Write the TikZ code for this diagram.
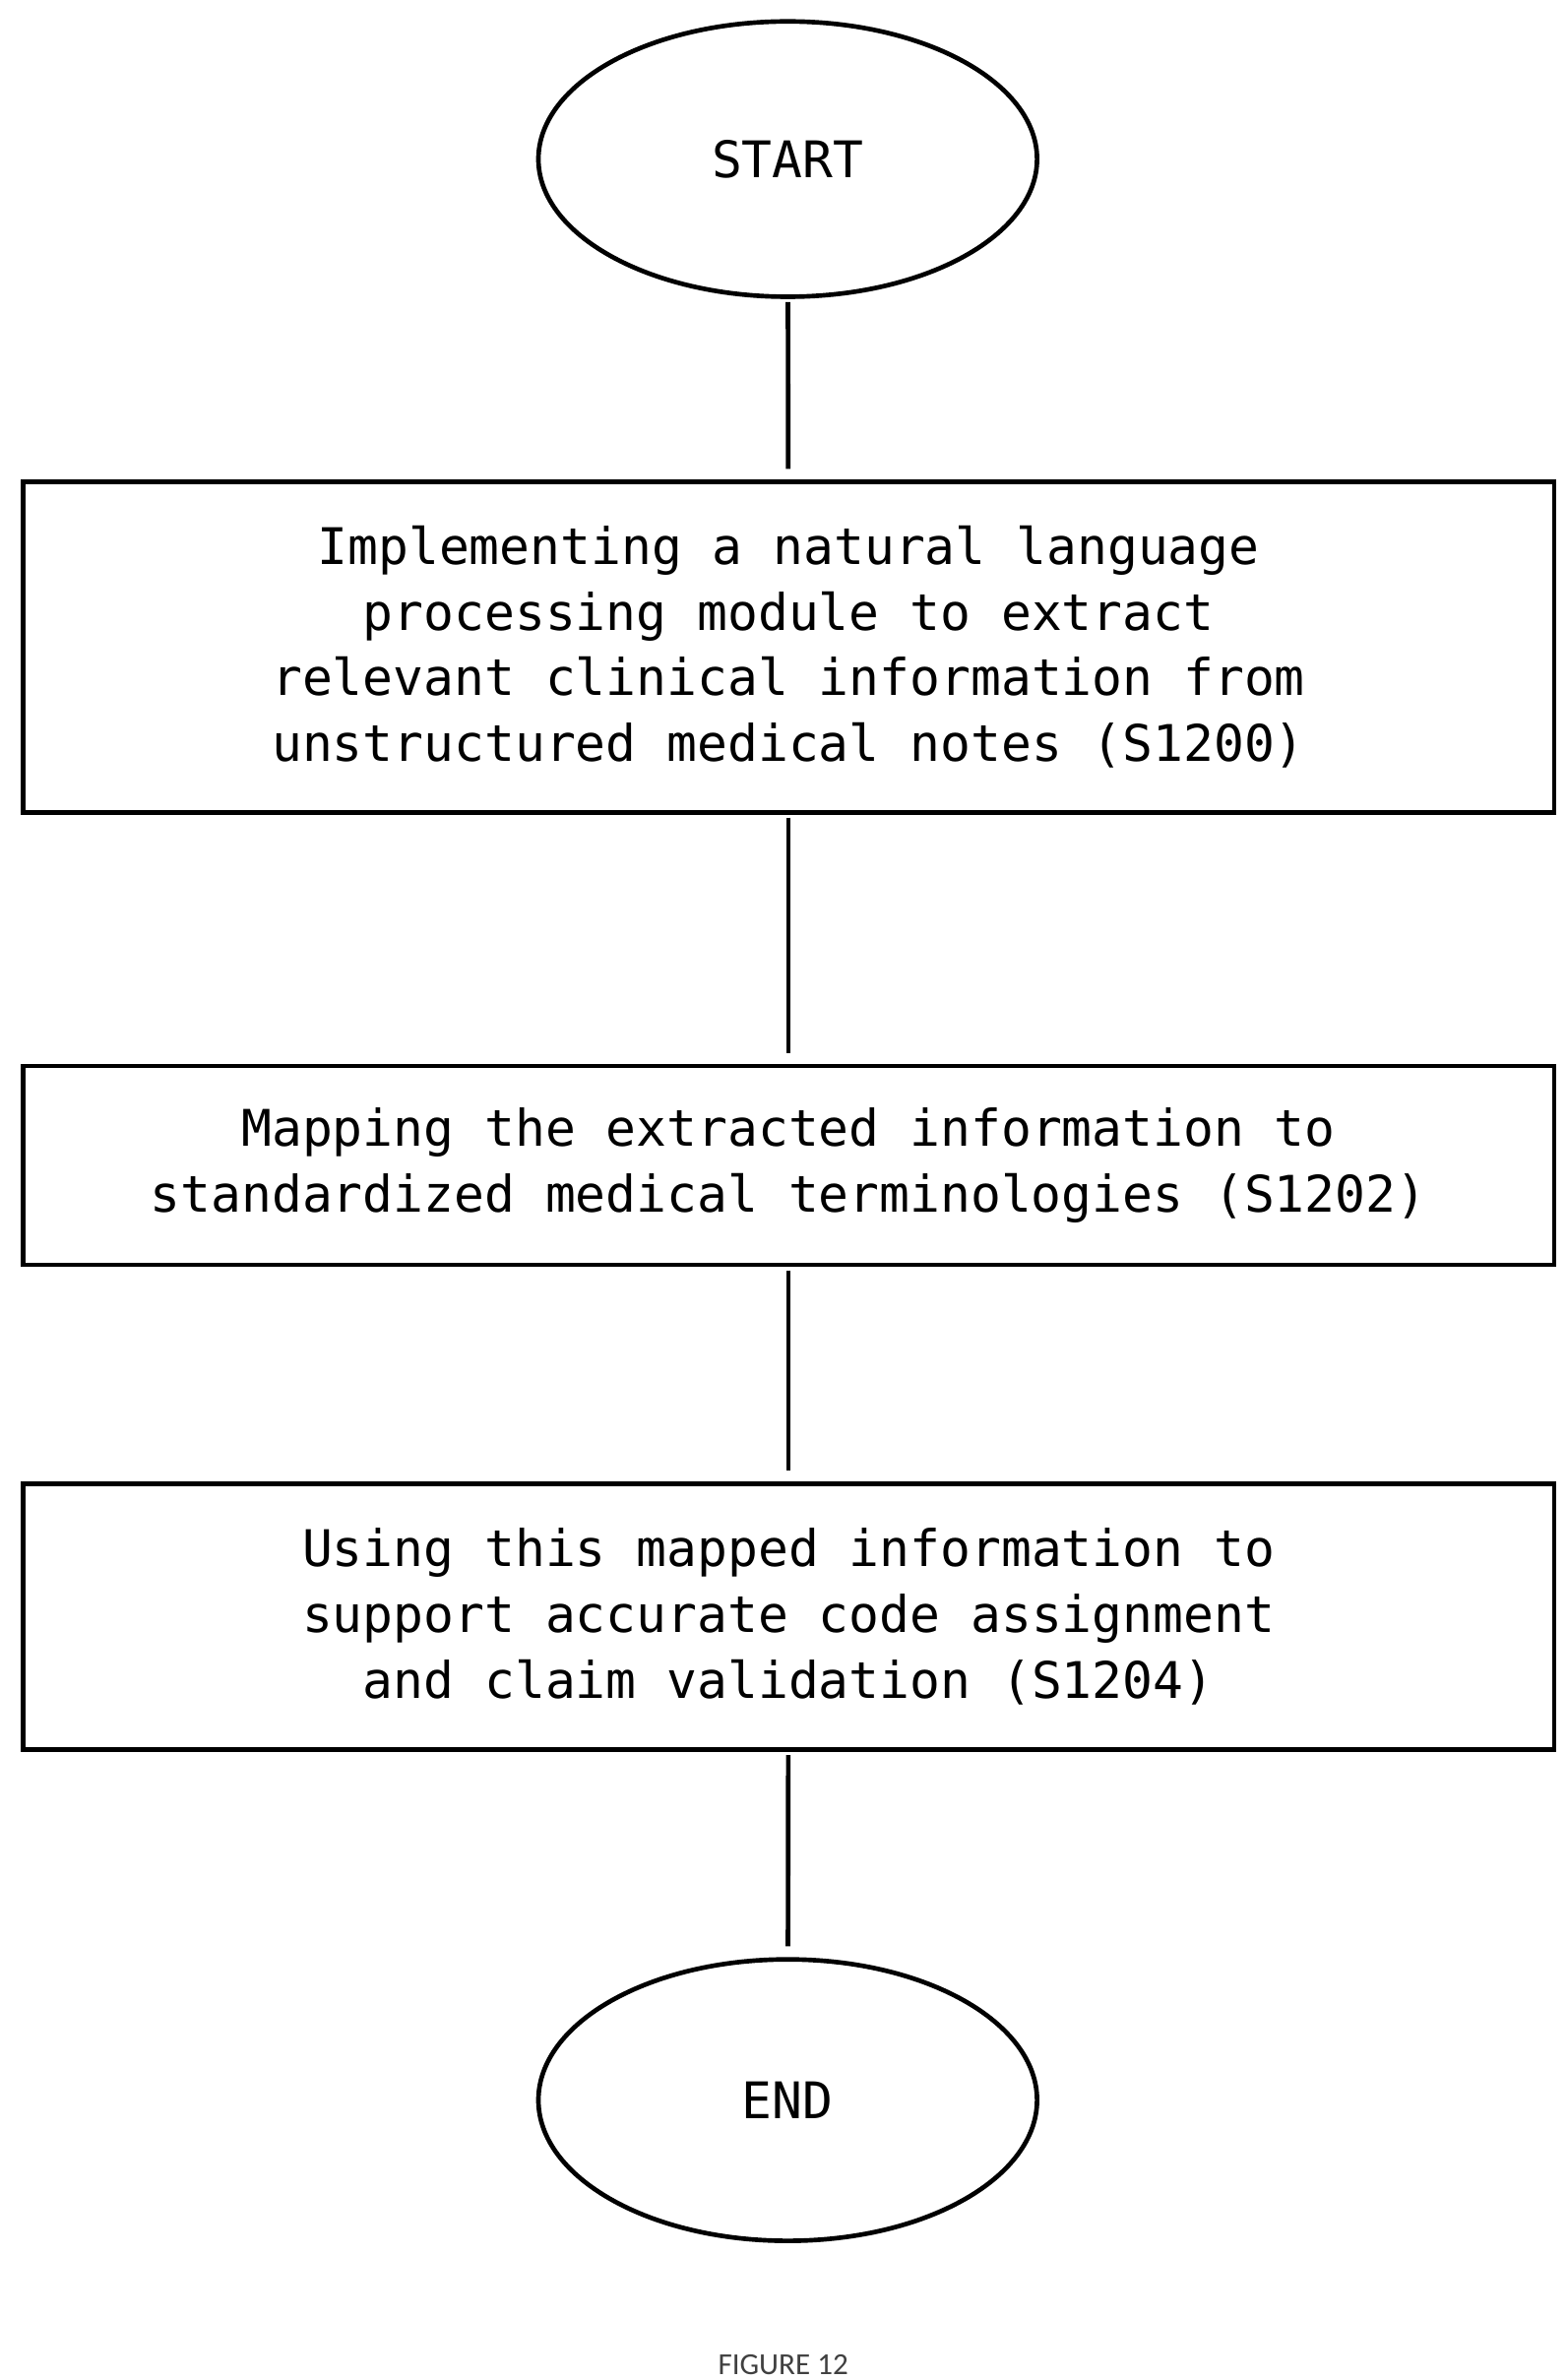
\documentclass[tikz,border=0pt]{standalone}
\usepackage{fontspec}
\setmonofont{DejaVu Sans Mono}
\newfontfamily\capfont{Carlito}
\usetikzlibrary{shapes.geometric}
\begin{document}
\begin{tikzpicture}[x=1pt,y=-1pt,
  term/.style={draw,line width=3pt,ellipse,minimum width=326pt,minimum height=180pt,font=\ttfamily\fontsize{33}{43}\selectfont},
  procbox/.style={draw,line width=3pt,rectangle,minimum width=1001pt,align=center,font=\ttfamily\fontsize{33}{43}\selectfont},
  link/.style={line width=3pt,shorten <=2pt,shorten >=7pt}]
\useasboundingbox (0,0) rectangle (1024,1556);
\node[term] (start) at (515,104) {START};
\node[procbox,minimum height=216pt] (s1) at (515.5,423) {Implementing a natural language\\processing module to extract\\relevant clinical information from\\unstructured medical notes (S1200)};
\node[procbox,minimum height=130pt] (s2) at (515.5,762) {Mapping the extracted information to\\standardized medical terminologies (S1202)};
\node[procbox,minimum height=174pt] (s3) at (515.5,1057) {Using this mapped information to\\support accurate code assignment\\and claim validation (S1204)};
\node[term,minimum height=184pt] (end) at (515,1373) {END};
\draw[link] (start) -- (s1);
\draw[link] (s1) -- (s2);
\draw[link] (s2) -- (s3);
\draw[link] (s3) -- (end);
\node[font=\capfont\fontsize{20}{24}\selectfont,text=black!75] (fig) at (512,1546) {FIGURE 12};
\end{tikzpicture}
\end{document}
